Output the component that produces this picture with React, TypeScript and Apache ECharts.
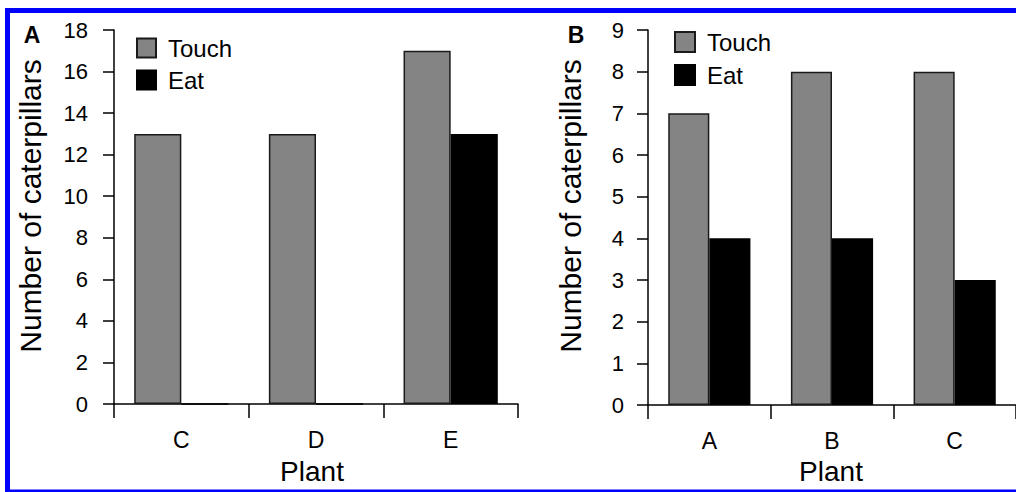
import React, { useEffect, useRef } from "react";
import * as echarts from "echarts";

const plantsA = ["C", "D", "E"];
const touchA = [13, 13, 17];
const eatA = [0, 0, 13];
const yTicksA = { min: 0, max: 18, interval: 2 };

const plantsB = ["A", "B", "C"];
const touchB = [7, 8, 8];
const eatB = [4, 4, 3];
const yTicksB = { min: 0, max: 9, interval: 1 };

const FONT = "'Liberation Sans', Arial, sans-serif";
const GRAY = "#848484";

export default function App() {
  const ref = useRef<HTMLDivElement>(null);
  useEffect(() => {
    if (!ref.current) return;
    const chart = echarts.init(ref.current, undefined, { renderer: "svg" });
    const axisLine = { show: true, lineStyle: { color: "#000", width: 1.5 } };
    const xAxis = (data: string[], gridIndex: number) => ({
      type: "category",
      gridIndex,
      data,
      axisLine,
      axisTick: { show: true, length: 14, lineStyle: { color: "#000", width: 1.5 } },
      axisLabel: { color: "#000", fontSize: 23, fontFamily: FONT, margin: 24 },
      splitLine: { show: false },
    });
    const yAxis = (t: { min: number; max: number; interval: number }, gridIndex: number, margin: number) => ({
      type: "value",
      gridIndex,
      min: t.min,
      max: t.max,
      interval: t.interval,
      axisLine,
      axisTick: { show: true, length: 11, lineStyle: { color: "#000", width: 1.5 } },
      axisLabel: { color: "#000", fontSize: 22, fontFamily: FONT, margin },
      splitLine: { show: false },
    });
    const touchStyle = { color: GRAY, borderColor: "#1a1a1a", borderWidth: 1.5 };
    const eatStyle = { color: "#000", borderColor: "#000", borderWidth: 1.5 };
    const legend = (left: number, top: number, size: number, gap: number) => ({
      left,
      top,
      orient: "vertical",
      padding: 0,
      itemWidth: size,
      itemHeight: size,
      itemGap: gap,
      icon: "rect",
      selectedMode: false,
      data: ["Touch", "Eat"],
      textStyle: { color: "#000", fontSize: 24, fontFamily: FONT, padding: [0, 0, 0, 7], lineHeight: 24 },
    });
    const txt = (text: string, x: number, y: number, size: number, weight: string, rotation = 0) => ({
      type: "text",
      x,
      y,
      rotation,
      style: { text, fontSize: size, fontWeight: weight, fontFamily: FONT, fill: "#000", align: "center", verticalAlign: "middle" },
    });
    chart.setOption({
      animation: false,
      backgroundColor: "#fff",
      grid: [
        { left: 114, top: 30, width: 404, height: 374 },
        { left: 648, top: 30, width: 370, height: 375 },
      ],
      xAxis: [xAxis(plantsA, 0), xAxis(plantsB, 1)],
      yAxis: [yAxis(yTicksA, 0, 26), yAxis(yTicksB, 1, 24)],
      legend: [legend(136, 36, 19, 8), legend(674, 30, 20, 9)],
      series: [
        { name: "Touch", type: "bar", xAxisIndex: 0, yAxisIndex: 0, data: touchA, itemStyle: touchStyle, barGap: "0%", barCategoryGap: "30%" },
        { name: "Eat", type: "bar", xAxisIndex: 0, yAxisIndex: 0, data: eatA, itemStyle: eatStyle, barGap: "0%", barCategoryGap: "30%" },
        { name: "Touch", type: "bar", xAxisIndex: 1, yAxisIndex: 1, data: touchB, itemStyle: touchStyle, barGap: "0%", barCategoryGap: "33%" },
        { name: "Eat", type: "bar", xAxisIndex: 1, yAxisIndex: 1, data: eatB, itemStyle: eatStyle, barGap: "0%", barCategoryGap: "33%" },
      ],
      graphic: [
        {
          type: "rect",
          shape: { x: 7.5, y: 10.5, width: 1030, height: 481.5 },
          style: { fill: "none", stroke: "#0000ff", lineWidth: 5 },
          silent: true,
        },
        txt("A", 32, 35, 23, "bold"),
        txt("B", 576, 35, 23, "bold"),
        txt("Number of caterpillars", 30, 206, 30, "normal", Math.PI / 2),
        txt("Number of caterpillars", 570, 206, 30, "normal", Math.PI / 2),
        txt("Plant", 312, 471, 28, "normal"),
        txt("Plant", 831, 471, 28, "normal"),
      ],
    });
    return () => chart.dispose();
  }, []);
  return <div ref={ref} style={{ position: "absolute", left: 0, top: 0, width: 1016, height: 492 }} />;
}
